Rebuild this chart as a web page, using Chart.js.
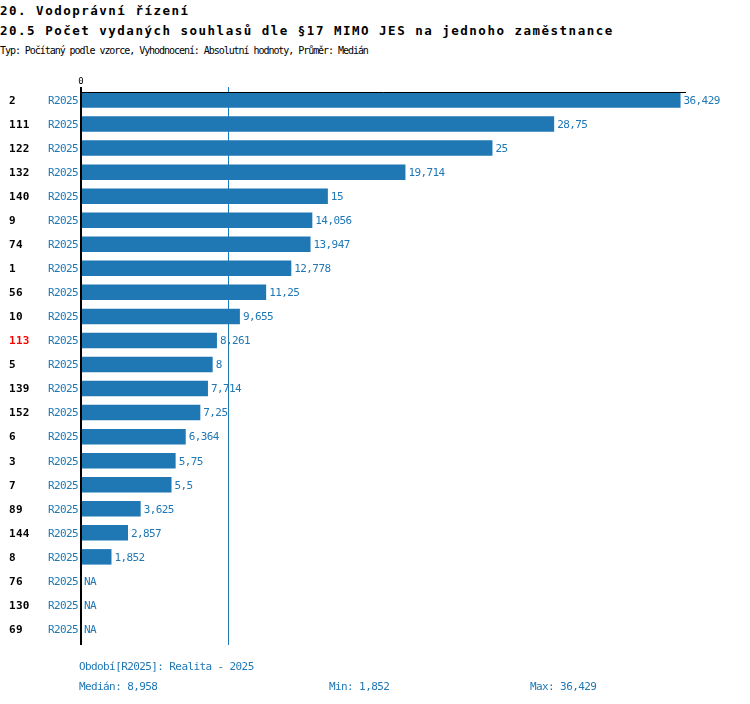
<!doctype html>
<html lang="cs">
<head>
  <meta charset="utf-8">
  <title>20.5 Počet vydaných souhlasů dle §17 MIMO JES na jednoho zaměstnance</title>
  <style>
    html, body {
      margin: 0;
      padding: 0;
      background: #fff;
      font-family: 'DejaVu Sans Mono', monospace;
    }
    .page {
      position: relative;
      width: 750px;
      height: 704px;
      overflow: hidden;
    }
    .page canvas {
      position: absolute;
      left: 0;
      top: 0;
    }
    .txt {
      position: absolute;
      white-space: nowrap;
    }
    .h1, .h2 {
      left: 0;
      font-size: 12.5px;
      line-height: 12.5px;
      font-weight: bold;
      letter-spacing: 1.5px;
      color: #000;
    }
    .h1 { top: 5px; }
    .h2 { top: 25px; }
    .sub {
      left: 0;
      top: 46px;
      font-size: 10px;
      line-height: 10px;
      letter-spacing: -1.05px;
      color: #000;
    }
    .foot {
      font-size: 11px;
      line-height: 11px;
      letter-spacing: -0.6px;
      color: #1f77b4;
    }
  </style>
</head>
<body>
<div class="page">
  <div class="txt h1">20. Vodoprávní řízení</div>
  <div class="txt h2">20.5 Počet vydaných souhlasů dle §17 MIMO JES na jednoho zaměstnance</div>
  <div class="txt sub">Typ: Počítaný podle vzorce, Vyhodnocení: Absolutní hodnoty, Průměr: Medián</div>

  <canvas id="chart" width="750" height="704"></canvas>

  <div class="txt foot" style="left:79px; top:660.5px;">Období[R2025]: Realita - 2025</div>
  <div class="txt foot" style="left:79px; top:680.5px;">Medián: 8,958</div>
  <div class="txt foot" style="left:329px; top:680.5px;">Min: 1,852</div>
  <div class="txt foot" style="left:530px; top:680.5px;">Max: 36,429</div>
</div>

<script src="https://cdn.jsdelivr.net/npm/chart.js"></script>
<script>
  const ids    = ['2', '111', '122', '132', '140', '9', '74', '1', '56', '10', '113', '5',
                  '139', '152', '6', '3', '7', '89', '144', '8', '76', '130', '69'];
  const period = 'R2025';
  const values = [36.429, 28.75, 25, 19.714, 15, 14.056, 13.947, 12.778, 11.25, 9.655, 8.261, 8,
                  7.714, 7.25, 6.364, 5.75, 5.5, 3.625, 2.857, 1.852, null, null, null];
  const highlight = '113';
  const median = 8.958;
  const xTicks = [0];

  const BLUE = '#1f77b4';
  const MONO = "'DejaVu Sans Mono', monospace";

  const fmt = v => String(v).replace('.', ',');

  // median line behind bars, axis lines and labels on top
  const decor = {
    id: 'decor',
    beforeDatasetsDraw(chart) {
      const { ctx, chartArea: a, scales: { x } } = chart;
      const mx = Math.round(x.getPixelForValue(median)) + 0.5;
      ctx.save();
      ctx.strokeStyle = BLUE;
      ctx.lineWidth = 1;
      ctx.beginPath();
      ctx.moveTo(mx, a.top - 1);
      ctx.lineTo(mx, a.bottom + 4);
      ctx.stroke();
      ctx.restore();
    },
    afterDatasetsDraw(chart) {
      const { ctx, chartArea: a, scales: { x, y } } = chart;
      const bars = chart.getDatasetMeta(0).data;
      const x0 = x.getPixelForValue(0);
      ctx.save();

      // top line along the first bar
      const top = Math.round(bars[0].y - bars[0].height / 2) + 0.5;
      ctx.strokeStyle = '#000';
      ctx.lineWidth = 1;
      ctx.beginPath();
      ctx.moveTo(x0, top);
      ctx.lineTo(a.right + 1, top);
      ctx.stroke();

      // y axis
      ctx.lineWidth = 2;
      ctx.beginPath();
      ctx.moveTo(x0, a.top - 1);
      ctx.lineTo(x0, a.bottom + 4);
      ctx.stroke();

      // x tick labels
      ctx.fillStyle = '#000';
      ctx.font = '9px ' + MONO;
      ctx.textAlign = 'center';
      ctx.textBaseline = 'middle';
      xTicks.forEach(t => ctx.fillText(String(t), x.getPixelForValue(t), a.top - 6));

      ctx.textBaseline = 'middle';
      ids.forEach((id, i) => {
        const py = y.getPixelForValue(i) + 1;
        ctx.letterSpacing = '0.3px';
        ctx.font = 'bold 11px ' + MONO;
        ctx.textAlign = 'left';
        ctx.fillStyle = id === highlight ? '#ff0000' : '#000';
        ctx.fillText(id, 9, py);

        ctx.letterSpacing = '-0.6px';
        ctx.font = '11px ' + MONO;
        ctx.fillStyle = BLUE;
        ctx.textAlign = 'right';
        ctx.fillText(period, 78, py);

        ctx.textAlign = 'left';
        const v = values[i];
        if (v == null) {
          ctx.fillText('NA', x0 + 3, py);
        } else {
          ctx.fillText(fmt(v), bars[i].x + 3, py);
        }
      });
      ctx.restore();
    }
  };

  new Chart(document.getElementById('chart'), {
    type: 'bar',
    data: {
      labels: ids,
      datasets: [{
        data: values,
        backgroundColor: BLUE,
        borderWidth: 0,
        barPercentage: 0.645,
        categoryPercentage: 1
      }]
    },
    options: {
      indexAxis: 'y',
      responsive: false,
      animation: false,
      devicePixelRatio: 1,
      layout: { padding: { left: 81, right: 65, top: 88, bottom: 63 } },
      plugins: {
        legend: { display: false },
        tooltip: { enabled: false }
      },
      scales: {
        x: { display: false, min: 0, max: 36.7 },
        y: { display: false }
      }
    },
    plugins: [decor]
  });
</script>
</body>
</html>
